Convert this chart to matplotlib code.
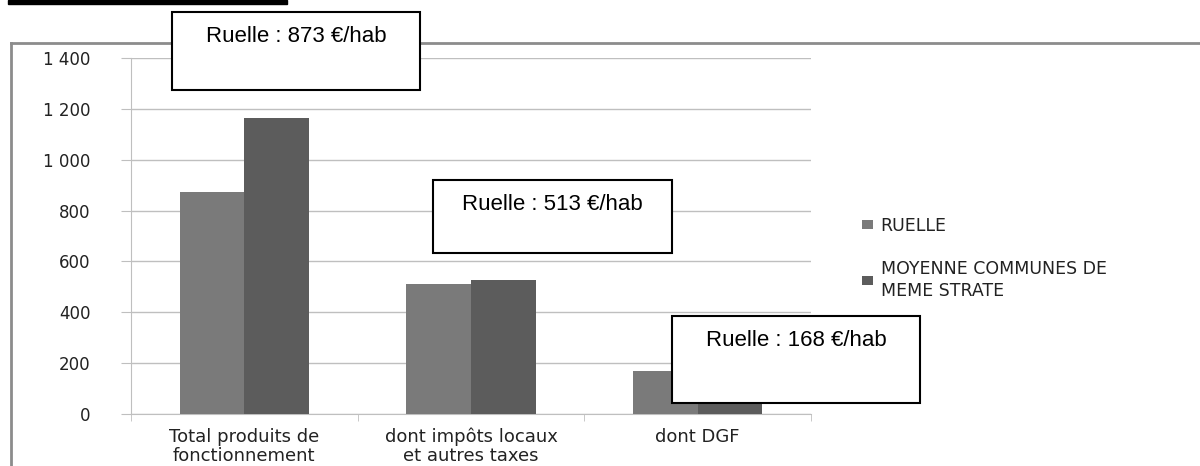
import matplotlib
matplotlib.use("Agg")
import matplotlib.pyplot as plt
from matplotlib.patches import Rectangle
from matplotlib.ticker import FuncFormatter
import numpy as np

# --- data ---
categories = ["Total produits de\nfonctionnement",
              "dont impôts locaux\net autres taxes",
              "dont DGF"]
ruelle = [873, 513, 168]
moyenne = [1166, 527, 168]
series_names = ["RUELLE", "MOYENNE COMMUNES DE\nMEME STRATE"]
callouts = ["Ruelle : 873 €/hab", "Ruelle : 513 €/hab", "Ruelle : 168 €/hab"]
yticks = [0, 200, 400, 600, 800, 1000, 1200, 1400]

W, H = 1200, 466
C_RUELLE = "#7a7a7a"
C_MOY = "#5c5c5c"
GRID = "#bfbfbf"


def fx(px):
    return px / W


def fy(py):
    return 1 - py / H


fig = plt.figure(figsize=(W / 100, H / 100), dpi=100)
ax = fig.add_axes([fx(131), fy(414), fx(811 - 131), fy(58) - fy(414)])

x = np.arange(len(categories))
bw = 0.286
ax.bar(x - bw / 2, ruelle, bw, color=C_RUELLE, label=series_names[0], zorder=3)
ax.bar(x + bw / 2, moyenne, bw, color=C_MOY, label=series_names[1], zorder=3)

ax.set_xlim(-0.5, len(categories) - 0.5)
ax.set_ylim(0, 1400)
ax.set_yticks(yticks)
ax.yaxis.set_major_formatter(FuncFormatter(lambda v, _: f"{int(v):,}".replace(",", " ")))
ax.grid(axis="y", color=GRID, lw=1, zorder=0)
ax.tick_params(axis="y", length=7, color=GRID, pad=22, labelsize=12,
               labelcolor="#222222")

ax.set_xticks(x)
ax.set_xticklabels(categories, fontsize=13, color="#222222", linespacing=1.05)
ax.tick_params(axis="x", length=0, pad=10)
ax.set_xticks(np.arange(len(categories) + 1) - 0.5, minor=True)
ax.tick_params(axis="x", which="minor", length=5, color=GRID)

for s in ["top", "right"]:
    ax.spines[s].set_visible(False)
ax.spines["left"].set_color(GRID)
ax.spines["bottom"].set_color(GRID)

# legend, right of the plot
leg = fig.legend(loc="upper left", bbox_to_anchor=(fx(846), fy(201)), frameon=False,
                 fontsize=12.5, handlelength=0.65, handleheight=0.45, handletextpad=0.45,
                 labelspacing=1.45, labelcolor="#222222")
for t in leg.get_texts():
    t.set_linespacing(1.3)

# outer frame of the original document and cut-off title underline
fig.add_artist(plt.Line2D([fx(11), fx(11)], [fy(43), 0], color="#8c8c8c", lw=2,
                          transform=fig.transFigure))
fig.add_artist(plt.Line2D([fx(11), 1], [fy(43), fy(43)], color="#8c8c8c", lw=2,
                          transform=fig.transFigure))
fig.add_artist(Rectangle((fx(8), fy(4)), fx(287 - 8), fy(0) - fy(4),
                         color="black", transform=fig.transFigure))

# text callouts
boxes = [(172, 12, 420, 90), (433, 180, 672, 253), (672, 316, 920, 403)]
for (x0, y0, x1, y1), txt in zip(boxes, callouts):
    fig.add_artist(Rectangle((fx(x0), fy(y1)), fx(x1 - x0), fy(y0) - fy(y1),
                             facecolor="white", edgecolor="black", lw=1.5,
                             transform=fig.transFigure, zorder=5))
    fig.text(fx((x0 + x1) / 2), fy(y0 + 24), txt, ha="center", va="center",
             fontsize=16, family="Liberation Sans", zorder=6)

fig.savefig("out.png", dpi=100)
